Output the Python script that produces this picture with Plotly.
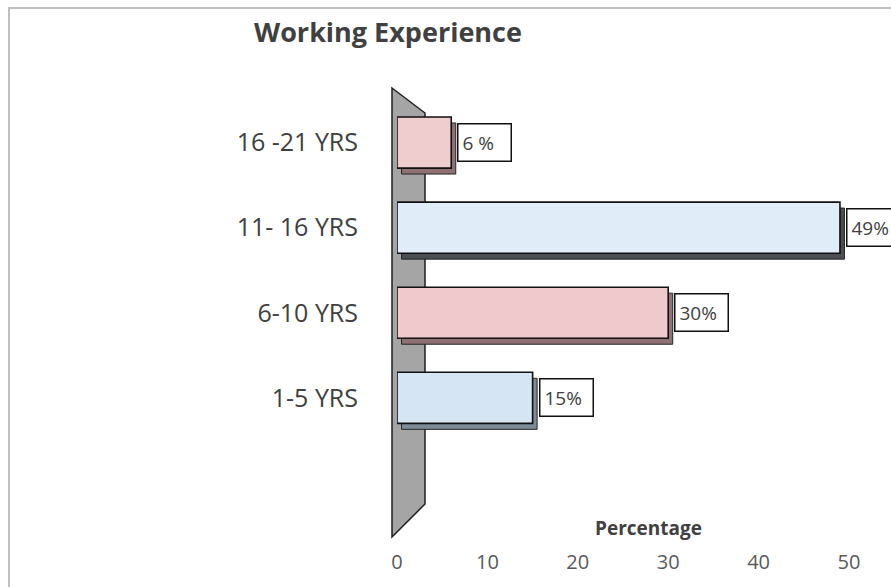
import plotly.graph_objects as go

# ---- data ----
categories = ["1-5 YRS", "6-10 YRS", "11- 16 YRS", "16 -21 YRS"]
values = [15, 30, 49, 6]
value_labels = ["15%", "30%", "49%", "6 %"]
x_ticks = [0, 10, 20, 30, 40, 50]

# ---- styles ----
front_colors = ["#d6e5f3", "#efc9cb", "#e0ecf8", "#efcdcf"]
side_colors = ["#7d8a97", "#8f7174", "#4a4d52", "#8f7174"]
FONT = "Open Sans"
DEPTH = 0.5

W, H = 891, 587
L, R, T, B = 397, 42, 100, 53
pw, ph = W - L - R, H - T - B


def px(xp):
    return (xp - L) / pw


def py(yp):
    return (H - B - yp) / ph


fig = go.Figure()

# depth (3D side) of the bars
fig.add_trace(go.Bar(
    y=categories, x=values, base=DEPTH, orientation="h",
    width=0.6, offset=-0.37,
    marker=dict(color=side_colors, line=dict(color="#262626", width=1)),
    hoverinfo="skip", showlegend=False,
))
# front faces
fig.add_trace(go.Bar(
    y=categories, x=values, orientation="h",
    width=0.6, offset=-0.3,
    marker=dict(color=front_colors, line=dict(color="#111111", width=1.6)),
    showlegend=False,
))

# data labels in boxes
for cat, v, lab in zip(categories, values, value_labels):
    fig.add_annotation(
        x=v, y=cat, xref="x", yref="y", text=lab, showarrow=False,
        xanchor="left", yanchor="middle", xshift=6, align="left",
        width=44, height=28, borderpad=4, borderwidth=1.5,
        bordercolor="#111111", bgcolor="#ffffff",
        font=dict(family=FONT, size=19, color="#404040"),
    )

# axis title
fig.add_annotation(
    x=px(648), y=py(528), xref="paper", yref="paper",
    text="<b>Percentage</b>", showarrow=False,
    xanchor="center", yanchor="middle",
    font=dict(family=FONT, size=19, color="#404040"),
)

# 3D back wall
wall = "M {a},{b} L {c},{d} L {c},{e} L {a},{f} Z".format(
    a=px(392), b=py(88), c=px(425), d=py(113), e=py(504), f=py(537))
fig.add_shape(type="path", path=wall, xref="paper", yref="paper",
              fillcolor="#a5a5a5", line=dict(color="#1f1f1f", width=1.5),
              layer="below")
# outer chart border
fig.add_shape(type="rect", xref="paper", yref="paper",
              x0=px(9), y0=py(8), x1=px(W + 20), y1=py(H + 20),
              line=dict(color="#bfbfbf", width=2), fillcolor="rgba(0,0,0,0)",
              layer="below")

fig.update_layout(
    width=W, height=H,
    margin=dict(l=L, r=R, t=T, b=B),
    paper_bgcolor="#ffffff", plot_bgcolor="#ffffff",
    barmode="overlay",
    title=dict(text="<b>Working Experience</b>", x=388 / W, xref="container",
               xanchor="center", y=1 - 33 / H, yanchor="middle",
               font=dict(family=FONT, size=27, color="#404040")),
    xaxis=dict(range=[0, 50], tickvals=x_ticks, showgrid=False, zeroline=False,
               showline=False, ticks="", ticklabelstandoff=14,
               tickfont=dict(family=FONT, size=20, color="#595959")),
    yaxis=dict(type="category", categoryorder="array", categoryarray=categories,
               range=[-1.6, 3.5], showgrid=False, zeroline=False, showline=False,
               ticks="", ticklabelstandoff=38,
               tickfont=dict(family=FONT, size=25, color="#404040")),
)

fig.write_html("out.html")
